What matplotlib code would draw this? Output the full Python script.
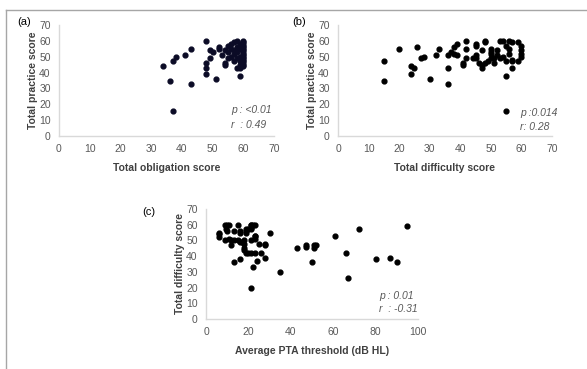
import matplotlib
matplotlib.use("Agg")
import matplotlib.pyplot as plt
from matplotlib.lines import Line2D

# ---------- Data ----------
# (a) obligation vs practice
obligation = [34, 36, 37, 37, 38, 41, 43, 43, 48, 48, 48, 48, 49, 49, 50, 51,
              52, 52, 53, 54, 54, 54, 55, 55, 55, 56, 56, 56, 57, 57, 57, 57,
              58, 58, 58, 58, 58, 59, 59, 59, 59, 59, 59, 59,
              60, 60, 60, 60, 60, 60, 60, 60, 60, 60, 60, 60, 60, 60, 60, 60, 60]
practice_a = [44, 35, 47, 16, 50, 51, 55, 33, 60, 46, 43, 39, 54, 49, 53, 36,
              56, 55, 51, 54, 46, 45, 57, 53, 49, 58, 55, 50, 59, 54, 52, 47,
              60, 56, 53, 49, 43, 58, 55, 43, 38, 50, 47, 45,
              60, 59, 58, 57, 56, 55, 54, 53, 52, 51, 50, 49, 48, 47, 46, 45, 44]

# (b) difficulty vs practice
difficulty_b = [15, 15, 20, 26, 24, 25, 24, 27, 28, 30, 32, 33, 36, 36, 36,
                37, 38, 39, 38, 39, 42, 42, 42, 44, 45, 41, 41, 45, 45, 45,
                46, 47, 47, 47, 48, 48, 48, 49, 50, 50, 50, 50, 51, 51, 52,
                52, 53, 53, 54, 55, 54, 55, 55, 55, 56, 57, 56, 56, 57, 57,
                57, 59, 59, 60, 60, 60, 60]
practice_b = [47, 35, 55, 56, 44, 43, 39, 49, 50, 36, 51, 55, 51, 43, 33,
              53, 56, 58, 52, 51, 60, 55, 49, 49, 49, 46, 45, 58, 57, 51,
              46, 45, 54, 43, 46, 60, 59, 47, 53, 52, 55, 49, 49, 46, 54,
              51, 49, 60, 60, 57, 50, 47, 38, 16, 60, 59, 52, 55, 43, 48,
              47, 59, 47, 57, 54, 52, 50]

# (c) PTA threshold vs difficulty
pta = [6, 6, 6, 9, 10, 9.5, 10, 11, 9, 11, 12, 12, 13, 13, 15, 15, 13, 16, 16,
       16, 16, 17, 18, 18, 19, 19, 18, 18, 19, 20, 19, 20, 21, 21, 21, 21, 21,
       21, 21, 22, 22, 23, 23, 23, 23, 23, 24, 25, 26, 28, 28, 28, 30, 35, 43,
       47, 47, 50, 51, 51, 52, 61, 66, 67, 72, 80, 87, 90, 95]
difficulty_c = [55, 54, 52, 60, 60, 57, 56, 60, 50, 51, 50, 47, 50, 56, 60, 50,
                36, 56, 55, 49, 38, 49, 48, 50, 55, 56, 45, 44, 42, 42, 57, 57,
                60, 60, 58, 57, 42, 20, 50, 33, 60, 60, 53, 51, 53, 42, 37, 48,
                42, 47, 48, 39, 55, 30, 45, 46, 47, 36, 45, 47, 47, 53, 42, 26,
                57, 38, 39, 36, 59]

GRID = "#d9d9d9"
TICK = "#595959"
LABEL = "#404040"
FONT = "Liberation Sans"

fig = plt.figure(figsize=(5.87, 3.69), dpi=100)
W, H = 587, 369


def make_axes(x0, x1, ytop, ybot):
    return fig.add_axes([x0 / W, 1 - ybot / H, (x1 - x0) / W, (ybot - ytop) / H])


def style(ax, xmax, xstep):
    ax.set_xlim(0, xmax)
    ax.set_ylim(0, 70)
    ax.set_xticks(range(0, xmax + 1, xstep))
    ax.set_yticks(range(0, 71, 10))
    for s in ["top", "right"]:
        ax.spines[s].set_visible(False)
    for s in ["left", "bottom"]:
        ax.spines[s].set_color(GRID)
        ax.spines[s].set_linewidth(1)
    ax.tick_params(length=0, labelsize=7.5, labelcolor=TICK, pad=6)
    for t in ax.get_xticklabels() + ax.get_yticklabels():
        t.set_fontfamily(FONT)
    ax.set_facecolor("none")


def note(ax, x, y, txt):
    ax.text(x, y, txt, transform=ax.transAxes, fontsize=7.5,
            style="italic", color=TICK, family=FONT)


# (a)
ax_a = make_axes(59, 274, 25, 136)
ax_a.scatter(obligation, practice_a, s=12, color="#0b0b26", clip_on=False, zorder=3)
style(ax_a, 70, 10)
ax_a.set_xlabel("Total obligation score", fontsize=7.5, fontweight="bold",
                color=LABEL, family=FONT, labelpad=6)
ax_a.set_ylabel("Total practice score", fontsize=7.5, fontweight="bold",
                color=LABEL, family=FONT, labelpad=1)
note(ax_a, 0.80, 0.21, "p : <0.01")
note(ax_a, 0.80, 0.07, "r  : 0.49")

# (b)
ax_b = make_axes(338, 552, 25, 136)
ax_b.scatter(difficulty_b, practice_b, s=12, color="black", clip_on=False, zorder=3)
style(ax_b, 70, 10)
ax_b.set_xlabel("Total difficulty score", fontsize=7.5, fontweight="bold",
                color=LABEL, family=FONT, labelpad=6)
ax_b.set_ylabel("Total practice score", fontsize=7.5, fontweight="bold",
                color=LABEL, family=FONT, labelpad=1)
note(ax_b, 0.85, 0.18, "p :0.014")
note(ax_b, 0.85, 0.055, "r: 0.28")

# (c)
ax_c = make_axes(206, 418, 209, 319)
ax_c.scatter(pta, difficulty_c, s=12, color="black", clip_on=False, zorder=3)
style(ax_c, 100, 20)
ax_c.set_xlabel("Average PTA threshold (dB HL)", fontsize=7.5, fontweight="bold",
                color=LABEL, family=FONT, labelpad=6)
ax_c.set_ylabel("Total difficulty score", fontsize=7.5, fontweight="bold",
                color=LABEL, family=FONT, labelpad=1)
note(ax_c, 0.816, 0.18, "p : 0.01")
note(ax_c, 0.816, 0.065, "r  : -0.31")

# panel letters
for lbl, px, py in [("(a)", 17, 22), ("(b)", 292, 22), ("(c)", 142, 212)]:
    fig.text(px / W, 1 - py / H, lbl, fontsize=8, color="black", family=FONT,
             va="center")

# frame lines (top and left)
fig.add_artist(Line2D([6 / W, 1], [1 - 10 / H, 1 - 10 / H], color="#a6a6a6", lw=1))
fig.add_artist(Line2D([6 / W, 6 / W], [0, 1 - 10 / H], color="#a6a6a6", lw=1))

fig.savefig("out.png", dpi=100)
